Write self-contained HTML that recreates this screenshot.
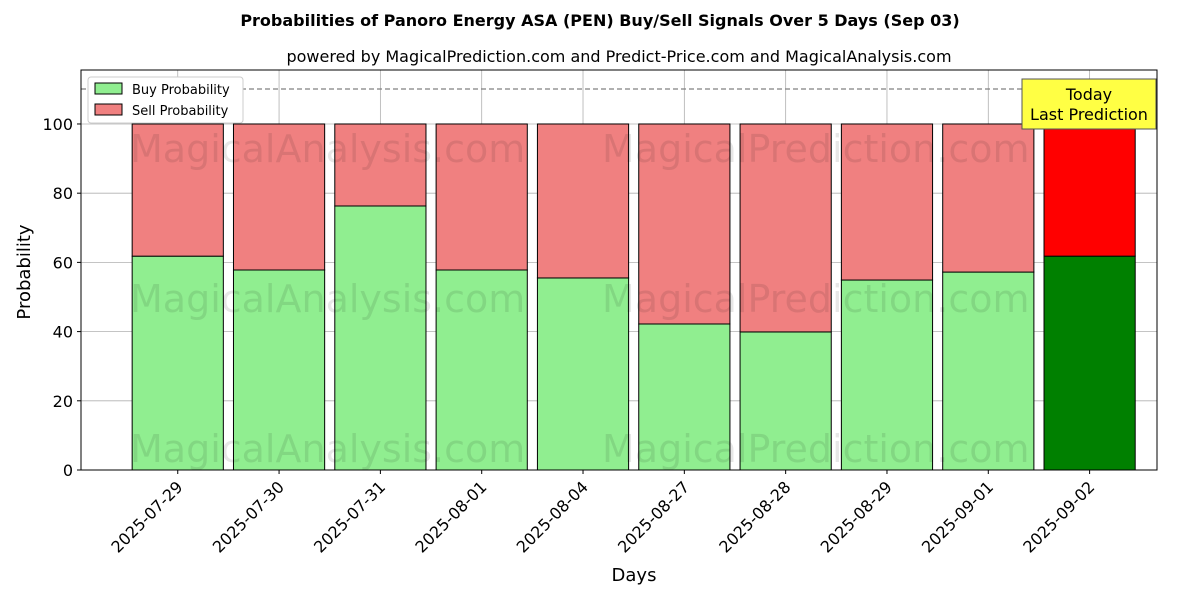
<!DOCTYPE html>
<html><head><meta charset="utf-8"><style>
body{margin:0;background:#fff;font-family:"DejaVu Sans","Liberation Sans",sans-serif}
svg text{font-family:"DejaVu Sans","Liberation Sans",sans-serif}
</style></head><body>
<svg id="chart" width="1200" height="600" xmlns="http://www.w3.org/2000/svg">
<rect width="1200" height="600" fill="#fff"/>
<text x="600" y="26" text-anchor="middle" font-size="16" font-weight="bold">Probabilities of Panoro Energy ASA (PEN) Buy/Sell Signals Over 5 Days (Sep 03)</text>
<text x="619" y="62" text-anchor="middle" font-size="16">powered by MagicalPrediction.com and Predict-Price.com and MagicalAnalysis.com</text>
<g id="grid"></g>
<g id="bars"></g>
<g font-size="38" fill="#000" opacity="0.09">
<text x="130" y="162">MagicalAnalysis.com</text><text x="602" y="162">MagicalPrediction.com</text>
<text x="130" y="312">MagicalAnalysis.com</text><text x="602" y="312">MagicalPrediction.com</text>
<text x="130" y="462">MagicalAnalysis.com</text><text x="602" y="462">MagicalPrediction.com</text>
</g>
<line x1="81" x2="1157" y1="89" y2="89" stroke="#808080" stroke-width="1.3" stroke-dasharray="5,3"/>
<rect x="81" y="70" width="1076" height="400" fill="none" stroke="#000" stroke-width="1"/>
<g id="axes" font-size="16"></g>
<text x="634" y="581" text-anchor="middle" font-size="18">Days</text>
<text x="30" y="272" text-anchor="middle" font-size="18" transform="rotate(-90 30 272)">Probability</text>
<g>
<rect x="88" y="77" width="155" height="46" fill="#fff" stroke="#ccc" rx="3"/>
<rect x="95" y="83" width="27" height="11" fill="#90ee90" stroke="#000"/>
<text x="132" y="94" font-size="13">Buy Probability</text>
<rect x="95" y="104" width="27" height="11" fill="#f08080" stroke="#000"/>
<text x="132" y="115" font-size="13">Sell Probability</text>
</g>
<g>
<rect x="1022" y="79" width="134" height="50" fill="#ffff44" stroke="#555"/>
<text x="1089" y="100" text-anchor="middle" font-size="16">Today</text>
<text x="1089" y="120" text-anchor="middle" font-size="16">Last Prediction</text>
</g>
</svg>
<script>
const categories=["2025-07-29","2025-07-30","2025-07-31","2025-08-01","2025-08-04","2025-08-27","2025-08-28","2025-08-29","2025-09-01","2025-09-02"];
const buyValues=[61.8,57.8,76.3,57.8,55.5,42.2,39.9,54.9,57.2,61.8];
const sellValues=buyValues.map(v=>100-v);
const yTicks=[0,20,40,60,80,100];
const NS="http://www.w3.org/2000/svg";
const L=81,R=1157,T=70,B=470,xmin=-0.945,xmax=9.675,ymax=115.6;
const xs=i=>L+(i-xmin)/(xmax-xmin)*(R-L);
const ys=v=>B-v/ymax*(B-T);
const bw=0.9*(R-L)/(xmax-xmin);
function mk(tag,attrs,parent){const e=document.createElementNS(NS,tag);for(const k in attrs)e.setAttribute(k,attrs[k]);parent.appendChild(e);return e;}
const grid=document.getElementById('grid'),bars=document.getElementById('bars'),axes=document.getElementById('axes');
yTicks.forEach(t=>{
 const l=mk('line',{x1:L,x2:R,y1:ys(t),y2:ys(t),stroke:'#b0b0b0','stroke-width':0.8},grid);
 
 
 mk('line',{x1:L-4,x2:L,y1:ys(t),y2:ys(t),stroke:'#000'},axes);
 const tx=mk('text',{x:L-8,y:ys(t)+6,'text-anchor':'end'},axes);tx.textContent=t;
 
 
});
categories.forEach((c,i)=>{
 const x=xs(i)+1;
 const g=mk('line',{x1:x,x2:x,y1:T,y2:B,stroke:'#b0b0b0','stroke-width':0.8},grid);
 
 
 const last=i===categories.length-1;
 const b=mk('rect',{x:x-bw/2,y:ys(buyValues[i]),width:bw,height:ys(0)-ys(buyValues[i]),fill:last?'#008000':'#90ee90',stroke:'#000','stroke-width':1},bars);
 
 
 const s=mk('rect',{x:x-bw/2,y:ys(buyValues[i]+sellValues[i]),width:bw,height:ys(buyValues[i])-ys(buyValues[i]+sellValues[i]),fill:last?'#ff0000':'#f08080',stroke:'#000','stroke-width':1},bars);
 
 
 mk('line',{x1:x,x2:x,y1:B,y2:B+4,stroke:'#000'},axes);
 const tx=mk('text',{x:x+6,y:B+18,'text-anchor':'end',transform:`rotate(-45 ${x+6} ${B+18})`},axes);tx.textContent=c;
 
 
});
</script>
</body></html>
